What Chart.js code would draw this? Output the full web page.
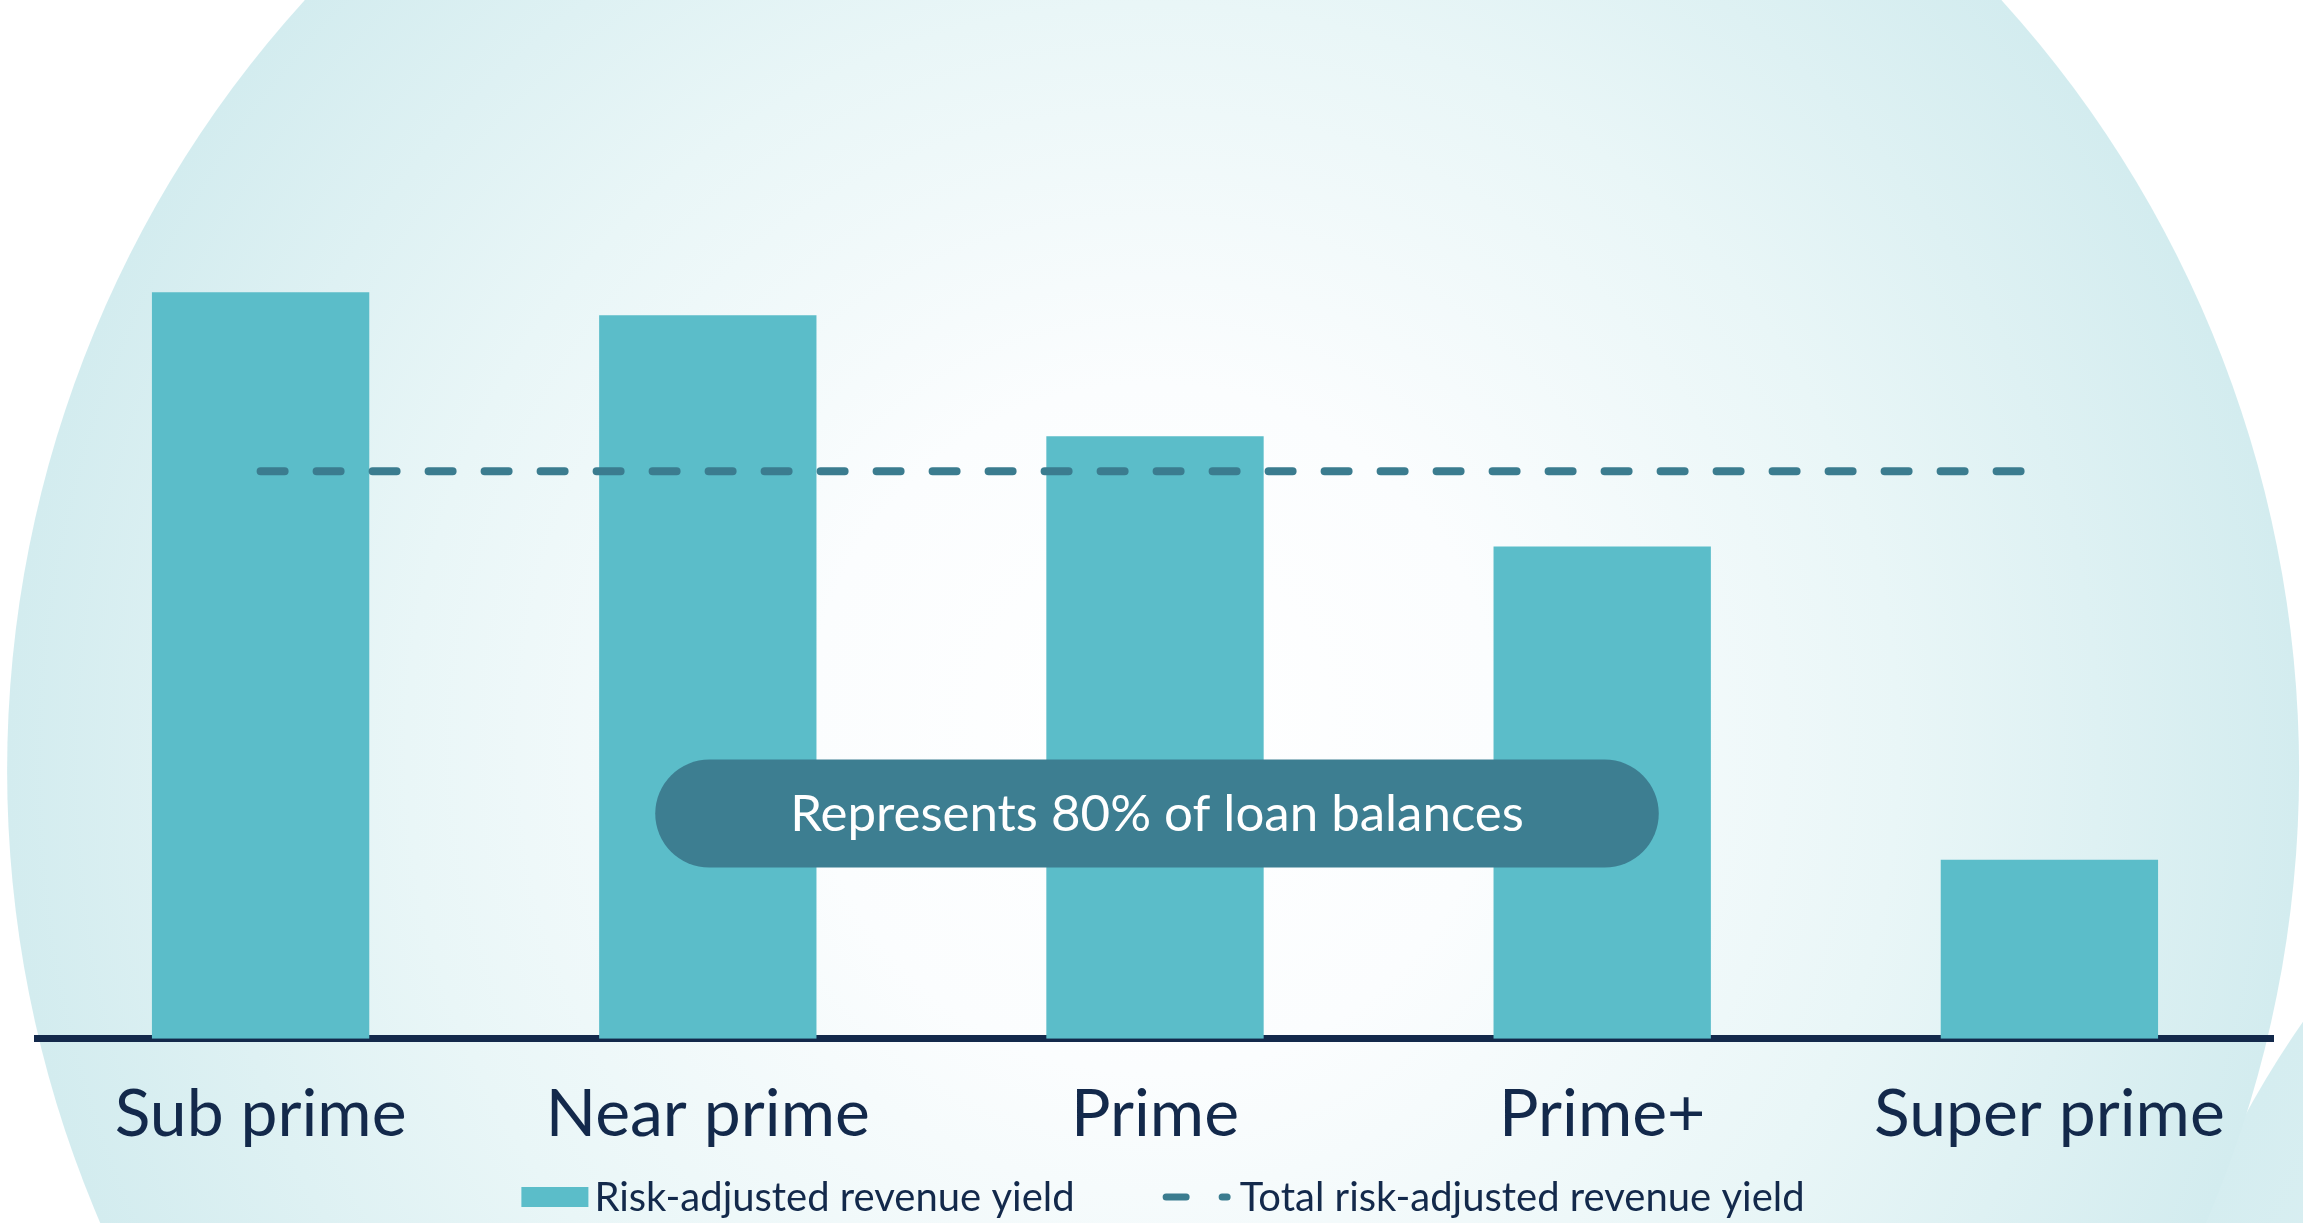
<!DOCTYPE html>
<html>
<head>
<meta charset="utf-8">
<script src="https://cdn.jsdelivr.net/npm/chart.js@4.4.1/dist/chart.umd.min.js"></script>
<style>
  html, body { margin: 0; padding: 0; background: #ffffff; overflow: hidden; }
  #wrap { position: relative; width: 2303px; height: 1223px; }
  canvas { display: block; }
</style>
</head>
<body>
<div id="wrap"><canvas id="c" width="2303" height="1223"></canvas></div>
<script>
// ---- data ----
const categories = ['Sub prime', 'Near prime', 'Prime', 'Prime+', 'Super prime'];
const yieldValues = [7.46, 7.23, 6.02, 4.92, 1.79];
const totalYield = 5.67;
const totalValues = categories.map(() => totalYield);
const seriesLabels = ['Risk-adjusted revenue yield', 'Total risk-adjusted revenue yield'];
const calloutText = 'Represents 80% of loan balances';
const calloutCategory = 'Prime';
const calloutValue = 2.25;

// ---- styles ----
const BAR = '#5bbdc9';
const DASH = '#3b7c8f';
const NAVY = '#13294b';
const PILL = '#3d7e91';
const FONT = 'Lato, "Open Sans", sans-serif';

const backgroundPlugin = {
  id: 'bg',
  beforeDraw(chart) {
    const ctx = chart.ctx;
    const w = chart.width, h = chart.height;
    ctx.save();
    ctx.fillStyle = '#ffffff';
    ctx.fillRect(0, 0, w, h);
    // secondary circle at bottom right
    const c2x = 3126, c2y = 1595, r2 = 1003;
    let g2 = ctx.createRadialGradient(c2x, c2y, 0, c2x, c2y, r2);
    g2.addColorStop(0, '#eef8f9');
    g2.addColorStop(1, '#d5edf0');
    ctx.fillStyle = g2;
    ctx.beginPath();
    ctx.arc(c2x, c2y, r2, 0, Math.PI * 2);
    ctx.fill();
    // main circle
    const cx = w * 0.5007, cy = h * 0.63, r = 1146;
    const g = ctx.createRadialGradient(cx, cy - 60, 0, cx, cy, r);
    g.addColorStop(0, '#ffffff');
    g.addColorStop(0.3, '#fbfdfe');
    g.addColorStop(0.65, '#e9f6f7');
    g.addColorStop(1, '#d3ecef');
    ctx.fillStyle = g;
    ctx.beginPath();
    ctx.arc(cx, cy, r, 0, Math.PI * 2);
    ctx.fill();
    ctx.restore();
  }
};

const calloutPlugin = {
  id: 'callout',
  afterDatasetsDraw(chart) {
    const ctx = chart.ctx;
    const xs = chart.scales.x, ys = chart.scales.y;
    const cx = xs.getPixelForValue(categories.indexOf(calloutCategory)) + 2;
    const cy = ys.getPixelForValue(calloutValue);
    const catW = xs.width / categories.length;
    const halfW = catW * 1.122;
    const halfH = 54;
    ctx.save();
    ctx.fillStyle = PILL;
    ctx.beginPath();
    ctx.roundRect(cx - halfW, cy - halfH, halfW * 2, halfH * 2, halfH);
    ctx.fill();
    ctx.fillStyle = '#ffffff';
    ctx.font = '51px ' + FONT;
    ctx.textAlign = 'center';
    ctx.textBaseline = 'middle';
    ctx.fillText(calloutText, cx, cy + 1);
    ctx.restore();
  }
};

const legendPlugin = {
  id: 'customLegend',
  afterDraw(chart) {
    const ctx = chart.ctx;
    const area = chart.chartArea;
    const y = 1197;
    ctx.save();
    ctx.font = '40px ' + FONT;
    ctx.textBaseline = 'middle';
    ctx.textAlign = 'left';
    const t1 = ctx.measureText(seriesLabels[0]).width;
    const t2 = ctx.measureText(seriesLabels[1]).width;
    const box1 = 67, gap1 = 6, itemGap = 88, icon2 = 68, gap2 = 9;
    const total = box1 + gap1 + t1 + itemGap + icon2 + gap2 + t2;
    let x = (area.left + area.right) / 2 - total / 2 + 8;
    // item 1
    ctx.fillStyle = BAR;
    ctx.fillRect(x, y - 10, box1, 20);
    ctx.fillStyle = NAVY;
    ctx.fillText(seriesLabels[0], x + box1 + gap1, y + 1);
    x += box1 + gap1 + t1 + itemGap;
    // item 2
    ctx.strokeStyle = DASH;
    ctx.lineWidth = 7;
    ctx.lineCap = 'round';
    ctx.setLineDash([20, 36]);
    ctx.beginPath();
    ctx.moveTo(x + 3.5, y);
    ctx.lineTo(x + icon2 - 3.5, y);
    ctx.stroke();
    ctx.setLineDash([]);
    ctx.fillStyle = NAVY;
    ctx.fillText(seriesLabels[1], x + icon2 + gap2, y + 1);
    ctx.restore();
  }
};

new Chart(document.getElementById('c'), {
  data: {
    labels: categories,
    datasets: [
      {
        type: 'line',
        label: seriesLabels[1],
        data: totalValues,
        borderColor: DASH,
        borderWidth: 8,
        borderDash: [24, 32],
        borderCapStyle: 'round',
        pointRadius: 0,
        fill: false,
        order: 0
      },
      {
        type: 'bar',
        label: seriesLabels[0],
        data: yieldValues,
        backgroundColor: BAR,
        borderWidth: 0,
        categoryPercentage: 1.0,
        barPercentage: 0.486,
        order: 1
      }
    ]
  },
  options: {
    responsive: false,
    animation: false,
    devicePixelRatio: 1,
    layout: { padding: { left: 37, right: 30, top: 38, bottom: 33 } },
    plugins: {
      legend: { display: false },
      tooltip: { enabled: false }
    },
    scales: {
      x: {
        z: 1,
        offset: true,
        grid: { display: false, drawTicks: false },
        border: { display: true, color: NAVY, width: 7 },
        ticks: {
          color: NAVY,
          padding: 36,
          font: { family: FONT, size: 66 }
        }
      },
      y: {
        display: false,
        min: 0,
        max: 10
      }
    }
  },
  plugins: [backgroundPlugin, calloutPlugin, legendPlugin]
});
</script>
</body>
</html>
